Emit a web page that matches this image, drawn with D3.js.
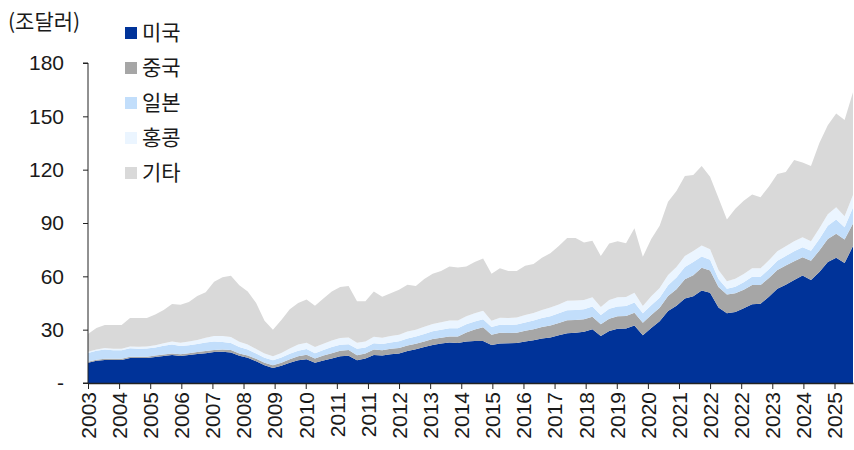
<!DOCTYPE html>
<html>
<head>
<meta charset="UTF-8">
<style>
  body { margin: 0; background: #fff; }
  svg { font-family: "Noto Sans CJK KR", "Noto Sans", sans-serif; }
  .axis path, .axis line { stroke: #222; }
  .axis text { font-size: 21px; fill: #1a1a1a; }
</style>
</head>
<body>
<svg id="chart"></svg>
<script src="https://d3js.org/d3.v7.min.js"></script>
<script>
// quarterly values, 조달러
const seriesNames = ["미국", "중국", "일본", "홍콩", "기타"];
const seriesColors = ["#003399", "#a6a6a6", "#c2defb", "#ebf5ff", "#d9d9d9"];

const us = [11.4, 12.5, 12.9, 12.9, 12.9, 14.0, 14.0, 14.0, 14.6, 15.2,
  15.7, 15.2, 15.7, 16.3, 16.8, 17.4, 17.6, 17.2, 15.3, 14.2,
  12.2, 10.0, 8.5, 9.7, 11.4, 12.8, 13.4, 11.4, 12.7, 13.8,
  15.0, 15.3, 12.8, 13.8, 15.8, 15.4, 16.2, 16.6, 18.0, 19.0,
  20.2, 21.4, 22.2, 22.8, 22.5, 23.4, 23.6, 23.6, 21.4, 22.2,
  22.3, 22.5, 23.4, 24.1, 25.0, 25.6, 26.8, 28.0, 28.3, 28.8,
  30.3, 26.5, 29.3, 30.5, 30.7, 32.3, 26.8, 31.0, 34.8, 40.5,
  43.4, 47.5, 48.8, 52.0, 50.8, 42.5, 39.2, 40.0, 42.0, 44.3,
  44.6, 48.5, 53.0, 55.3, 58.0, 60.5, 58.0, 62.5, 68.0, 70.5,
  67.5, 77.0];

const china = [0.6, 0.6, 0.7, 0.7, 0.7, 0.8, 0.8, 0.8, 0.9, 0.9,
  0.9, 1.0, 1.0, 1.1, 1.2, 1.2, 1.3, 1.3, 1.3, 1.3,
  1.4, 1.4, 1.5, 1.7, 2.0, 2.3, 2.5, 2.4, 2.7, 3.0,
  3.2, 3.2, 2.8, 2.8, 3.0, 3.0, 3.0, 3.1, 3.1, 3.1,
  3.2, 3.3, 3.3, 3.4, 3.6, 5.0, 6.5, 7.7, 5.8, 6.0,
  5.8, 5.8, 6.0, 6.2, 6.5, 6.8, 7.0, 7.3, 7.2, 7.0,
  7.0, 6.5, 6.8, 7.0, 7.0, 7.2, 7.1, 7.3, 7.5, 8.5,
  9.4, 10.8, 11.8, 12.8, 12.5, 11.5, 10.6, 10.5, 10.5, 10.8,
  10.5, 10.5, 10.6, 10.8, 10.5, 10.3, 10.8, 12.0, 13.0, 13.5,
  13.2, 12.7];

const japan = [4.9, 5.0, 5.2, 4.8, 4.8, 4.8, 4.5, 4.6, 4.5, 4.8,
  5.0, 4.6, 4.6, 4.6, 4.8, 4.8, 4.2, 4.0, 3.6, 3.4,
  3.0, 2.8, 2.8, 2.9, 3.0, 3.0, 3.2, 3.0, 3.2, 3.4,
  3.3, 3.3, 3.6, 3.4, 3.6, 3.5, 3.6, 3.8, 4.0, 4.0,
  4.2, 4.4, 4.5, 4.6, 4.7, 4.6, 4.5, 4.5, 4.3, 4.5,
  4.5, 4.6, 4.7, 4.8, 5.0, 5.2, 5.4, 5.6, 5.6, 5.7,
  5.7, 5.2, 5.6, 5.6, 5.6, 5.8, 5.3, 5.5, 5.6, 6.0,
  6.5, 7.0, 7.4, 6.3, 6.0, 4.5, 3.2, 3.6, 4.2, 4.6,
  4.6, 5.0, 5.2, 5.4, 5.6, 5.6, 5.6, 6.5, 7.4, 7.9,
  6.9, 9.0];

const hongkong = [0.7, 0.8, 0.9, 0.9, 0.9, 1.0, 1.1, 1.2, 1.3, 1.5,
  1.7, 1.8, 2.0, 2.2, 2.6, 3.0, 3.4, 3.4, 3.0, 2.8,
  2.5, 2.4, 2.3, 2.6, 3.0, 3.5, 3.6, 3.4, 3.5, 3.7,
  3.8, 3.8, 3.4, 3.4, 3.6, 3.5, 3.6, 3.7, 3.9, 3.9,
  4.0, 4.1, 4.2, 4.3, 4.3, 4.5, 4.7, 4.8, 3.5, 4.0,
  4.0, 4.0, 4.2, 4.3, 4.6, 4.8, 5.0, 5.3, 5.3, 5.2,
  5.3, 4.6, 5.0, 5.1, 5.1, 5.5, 4.1, 5.0, 5.6, 5.8,
  6.0, 6.2, 6.2, 6.2, 6.0, 5.0, 4.3, 4.5, 4.6, 4.8,
  4.8, 5.0, 5.3, 5.4, 5.6, 5.6, 5.4, 6.0, 6.5, 7.0,
  6.2, 7.0];

const others = [9.9, 12.1, 12.9, 13.3, 13.3, 15.9, 16.1, 15.9, 17.2, 18.6,
  21.2, 21.4, 22.2, 24.8, 25.6, 30.6, 33.0, 34.4, 31.8, 29.8,
  25.9, 18.4, 14.9, 18.6, 22.1, 23.4, 24.3, 23.3, 25.4, 27.6,
  28.7, 28.9, 23.4, 22.6, 25.5, 23.1, 24.1, 25.3, 26.3, 24.5,
  26.9, 28.3, 28.8, 30.4, 29.9, 28.0, 28.7, 29.4, 26.5, 27.8,
  26.4, 26.1, 27.7, 27.6, 29.4, 30.6, 32.8, 35.3, 35.1, 32.3,
  31.7, 28.7, 31.8, 31.6, 30.2, 36.2, 27.7, 32.2, 35.0, 41.2,
  42.7, 45.0, 42.8, 44.7, 40.7, 40.5, 34.7, 39.4, 41.2, 41.5,
  40.0, 41.5, 43.4, 41.8, 45.8, 42.0, 42.2, 48.0, 50.1, 52.7,
  54.2, 57.8];

const tickLabels = ["2003", "2004", "2005", "2006", "2007", "2008", "2009", "2010",
  "2011", "2011", "2012", "2013", "2014", "2015", "2016", "2017", "2018", "2019",
  "2020", "2021", "2022", "2022", "2023", "2024", "2025"];
const yTicks = [0, 30, 60, 90, 120, 150, 180];

const width = 854, height = 450;
const plot = { left: 88, right: 853, top: 63, bottom: 383 };

const svg = d3.select("#chart")
  .attr("width", width)
  .attr("height", height);

const rows = us.map((v, i) => ({
  "미국": v, "중국": china[i], "일본": japan[i], "홍콩": hongkong[i], "기타": others[i]
}));

const stack = d3.stack().keys(seriesNames);
const layers = stack(rows);

const x = d3.scaleLinear()
  .domain([0, rows.length - 1])
  .range([plot.left, plot.right]);

const y = d3.scaleLinear()
  .domain([0, 180])
  .range([plot.bottom, plot.top]);

const color = d3.scaleOrdinal().domain(seriesNames).range(seriesColors);

const area = d3.area()
  .x((d, i) => x(i))
  .y0(d => y(d[0]))
  .y1(d => y(d[1]));

svg.append("g")
  .selectAll("path")
  .data(layers)
  .join("path")
  .attr("fill", d => color(d.key))
  .attr("d", area);

// y axis
const yAxis = svg.append("g")
  .attr("class", "axis")
  .attr("transform", `translate(${plot.left},0)`)
  .call(d3.axisLeft(y)
    .tickValues(yTicks)
    .tickSize(5)
    .tickPadding(19)
    .tickFormat(d => d === 0 ? "-" : d));
yAxis.select(".domain").attr("d", `M-5,${plot.top}H0V${plot.bottom}H-5`);

// x axis: labels spaced a little under a year apart
const tickStep = 3.7;
const tickPos = tickLabels.map((_, k) => k * tickStep);
const xAxis = svg.append("g")
  .attr("class", "axis")
  .attr("transform", `translate(0,${plot.bottom})`)
  .call(d3.axisBottom(x)
    .tickValues(tickPos)
    .tickSize(6)
    .tickSizeOuter(0)
    .tickFormat((d, k) => tickLabels[k]));
xAxis.select(".domain").attr("stroke-width", 1.5);
xAxis.selectAll("text")
  .attr("transform", "rotate(-90)")
  .attr("text-anchor", "end")
  .attr("x", -9)
  .attr("y", 0)
  .attr("dy", "0.35em");

// unit label
svg.append("text")
  .attr("x", 8)
  .attr("y", 22)
  .attr("dy", "0.35em")
  .attr("font-size", 21)
  .attr("fill", "#1a1a1a")
  .text("(조달러)");

// legend
const legend = svg.append("g")
  .selectAll("g")
  .data(seriesNames)
  .join("g")
  .attr("transform", (d, i) => `translate(125,${33 + i * 35})`);

legend.append("rect")
  .attr("x", 0)
  .attr("y", -6)
  .attr("width", 12)
  .attr("height", 12)
  .attr("fill", d => color(d));

legend.append("text")
  .attr("x", 17)
  .attr("y", 0)
  .attr("dy", "0.35em")
  .attr("font-size", 21)
  .attr("fill", "#1a1a1a")
  .text(d => d);
</script>
</body>
</html>
